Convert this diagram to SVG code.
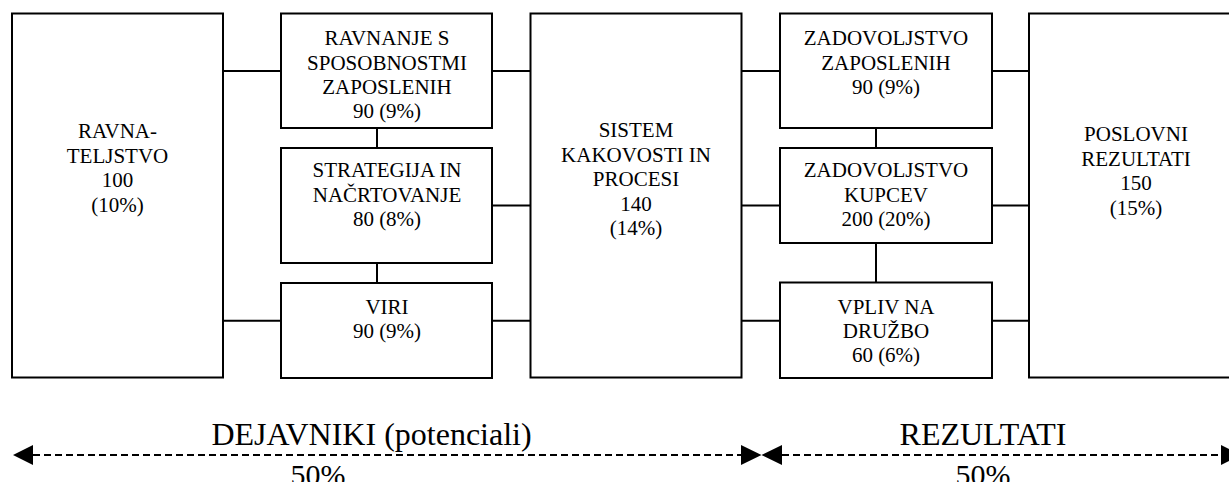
<svg xmlns="http://www.w3.org/2000/svg" width="1229" height="482" viewBox="0 0 1229 482">
<defs>
<style>
.box{fill:#fff;stroke:#000;stroke-width:2}
.t{font-family:"Liberation Serif","Times New Roman",serif;font-size:21px;fill:#000;text-anchor:middle}
.big{font-family:"Liberation Serif","Times New Roman",serif;font-size:32px;fill:#000;text-anchor:middle}
.pct{font-family:"Liberation Serif","Times New Roman",serif;font-size:30px;fill:#000;text-anchor:middle}
.c{stroke:#000;stroke-width:2;fill:none}
.d{stroke:#000;stroke-width:2;fill:none;stroke-dasharray:7 4}
</style>
</defs>
<rect width="1229" height="482" fill="#fff"/>
<g id="connectors">
<path class="c" d="M223 71H281M492 71H530.5M741.5 71H780M992 71H1029"/>
<path class="c" d="M492 205.5H530.5M741.5 205.5H780M992 205.5H1029"/>
<path class="c" d="M223 320.7H281M492 320.7H530.5M741.5 320.7H780M992 320.7H1029"/>
<path class="c" d="M377 128V148M377 263V283M876 128V148M876 243V282.5"/>
</g>
<g id="ravnateljstvo">
<rect class="box" x="12" y="13.5" width="211" height="364"/>
<text class="t" x="117.5" y="138">RAVNA-</text>
<text class="t" x="117.5" y="162.5">TELJSTVO</text>
<text class="t" x="117.5" y="187">100</text>
<text class="t" x="117.5" y="211.5">(10%)</text>
</g>
<g id="ravnanje">
<rect class="box" x="281" y="13.5" width="211" height="114.5"/>
<text class="t" x="387" y="45">RAVNANJE S</text>
<text class="t" x="387" y="69.5">SPOSOBNOSTMI</text>
<text class="t" x="387" y="94">ZAPOSLENIH</text>
<text class="t" x="387" y="118">90 (9%)</text>
</g>
<g id="strategija">
<rect class="box" x="281" y="148" width="211" height="115"/>
<text class="t" x="387" y="177">STRATEGIJA IN</text>
<text class="t" x="387" y="201.5">NAČRTOVANJE</text>
<text class="t" x="387" y="226">80 (8%)</text>
</g>
<g id="viri">
<rect class="box" x="281" y="283" width="211" height="95"/>
<text class="t" x="387" y="313.5">VIRI</text>
<text class="t" x="387" y="338">90 (9%)</text>
</g>
<g id="sistem">
<rect class="box" x="530.5" y="13.5" width="211" height="364"/>
<text class="t" x="636" y="137">SISTEM</text>
<text class="t" x="636" y="161.5">KAKOVOSTI IN</text>
<text class="t" x="636" y="186">PROCESI</text>
<text class="t" x="636" y="210.5">140</text>
<text class="t" x="636" y="235">(14%)</text>
</g>
<g id="zadovoljstvo-zaposlenih">
<rect class="box" x="780" y="13.5" width="212" height="114.5"/>
<text class="t" x="886" y="45">ZADOVOLJSTVO</text>
<text class="t" x="886" y="69.5">ZAPOSLENIH</text>
<text class="t" x="886" y="94">90 (9%)</text>
</g>
<g id="zadovoljstvo-kupcev">
<rect class="box" x="780" y="148" width="212" height="95"/>
<text class="t" x="886" y="177">ZADOVOLJSTVO</text>
<text class="t" x="886" y="201.5">KUPCEV</text>
<text class="t" x="886" y="226">200 (20%)</text>
</g>
<g id="vpliv">
<rect class="box" x="780" y="282.5" width="212" height="95.5"/>
<text class="t" x="886" y="313.5">VPLIV NA</text>
<text class="t" x="886" y="338">DRUŽBO</text>
<text class="t" x="886" y="362">60 (6%)</text>
</g>
<g id="poslovni">
<rect class="box" x="1029" y="13.5" width="212" height="364"/>
<text class="t" x="1136" y="141">POSLOVNI</text>
<text class="t" x="1136" y="165.5">REZULTATI</text>
<text class="t" x="1136" y="190">150</text>
<text class="t" x="1136" y="214.5">(15%)</text>
</g>
<g id="scale">
<path class="d" d="M33 455H741M782 455H1221"/>
<path d="M13 455L33 445V465Z M761.5 455L741 445V465Z M761.5 455L782 445V465Z M1241 455L1221 445V465Z" fill="#000"/>
<text class="big" x="371.5" y="445">DEJAVNIKI (potenciali)</text>
<text class="pct" x="318" y="485">50%</text>
<text class="big" x="983" y="445">REZULTATI</text>
<text class="pct" x="983" y="485">50%</text>
</g>
</svg>
